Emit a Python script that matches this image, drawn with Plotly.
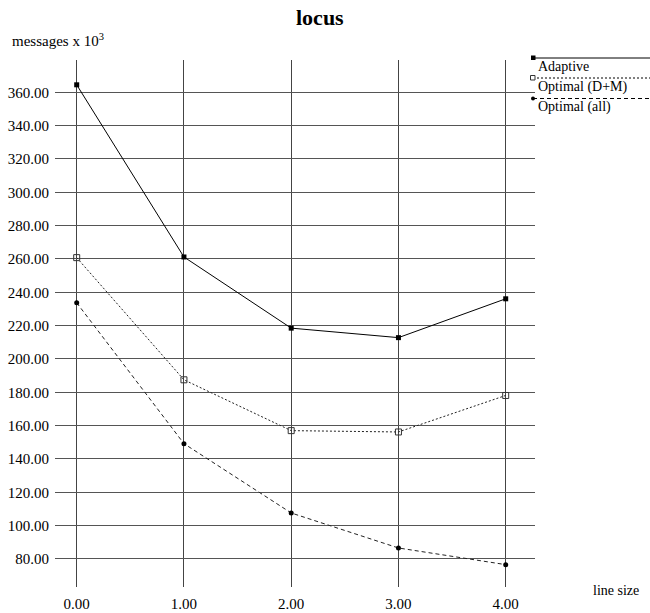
import plotly.graph_objects as go

# ---- data ----
line_size = [0, 1, 2, 3, 4]
adaptive = [364.5, 261.2, 218.5, 212.8, 236.1]
optimal_dm = [260.8, 187.5, 157.0, 156.2, 178.1]
optimal_all = [233.7, 149.2, 107.6, 86.6, 76.6]
series_names = ["Adaptive", "Optimal (D+M)", "Optimal (all)"]
y_ticks = list(range(80, 361, 20))
x_ticks = [0, 1, 2, 3, 4]

W, H = 650, 613
L, R, T, B = 55, 535, 60, 587
FONT = "Liberation Serif"


def px(x):
    return (x - L) / (R - L)


def py(y):
    return (B - y) / (B - T)


fig = go.Figure()

fig.add_trace(go.Scatter(x=line_size, y=adaptive, mode="lines+markers", name=series_names[0],
                         line=dict(color="black", width=1),
                         marker=dict(symbol="square", size=5, color="black")))
fig.add_trace(go.Scatter(x=line_size, y=optimal_dm, mode="lines+markers", name=series_names[1],
                         line=dict(color="#222", width=1, dash="2px,2px"),
                         marker=dict(symbol="square-open", size=6, color="#333",
                                     line=dict(width=1, color="#333"))))
fig.add_trace(go.Scatter(x=line_size, y=optimal_all, mode="lines+markers", name=series_names[2],
                         line=dict(color="#222", width=1, dash="4px,3px"),
                         marker=dict(symbol="circle", size=5, color="black")))

# x range / y range to match pixel layout
x0, x_scale = 76.7, 107.25
y360, y_scale = 92.3, 1.6667
xr = [(L - x0) / x_scale, (R - x0) / x_scale]
yr = [360 - (B - y360) / y_scale, 360 + (y360 - T) / y_scale]

fig.update_xaxes(range=xr, tickvals=x_ticks, ticktext=[f"{v:.2f}" for v in x_ticks],
                 showgrid=True, gridcolor="#444", gridwidth=1, zeroline=False, showline=False,
                 ticks="", ticklabelstandoff=6, automargin=False,
                 tickfont=dict(family=FONT, size=15, color="black"))
fig.update_yaxes(range=yr, tickvals=y_ticks, ticktext=[f"{v:.2f}" for v in y_ticks],
                 showgrid=True, gridcolor="#555", gridwidth=1, zeroline=False, showline=False,
                 ticks="", ticklabelstandoff=5, automargin=False,
                 tickfont=dict(family=FONT, size=15, color="black"))

# ---- custom legend ----
shapes = []
annotations = []
leg_y = [58, 78, 98.5]
dashes = ["solid", "2px,2px", "4px,3px"]
for i, name in enumerate(series_names):
    yy = leg_y[i]
    shapes.append(dict(type="line", xref="paper", yref="paper", x0=px(533), x1=px(650),
                       y0=py(yy), y1=py(yy), line=dict(color="black", width=1, dash=dashes[i])))
    annotations.append(dict(text=name, xref="paper", yref="paper", x=px(536), y=py(yy + 8.5),
                            xanchor="left", yanchor="middle", showarrow=False,
                            font=dict(family=FONT, size=14, color="black")))
# legend markers
shapes.append(dict(type="rect", xref="paper", yref="paper", x0=px(531), x1=px(535.5),
                   y0=py(60), y1=py(55.5), fillcolor="black", line=dict(width=0)))
shapes.append(dict(type="rect", xref="paper", yref="paper", x0=px(530.5), x1=px(535),
                   y0=py(80), y1=py(75.5), fillcolor="white", line=dict(width=1, color="#333")))
shapes.append(dict(type="circle", xref="paper", yref="paper", x0=px(531), x1=px(535),
                   y0=py(100.5), y1=py(96.5), fillcolor="black", line=dict(width=0)))

annotations.append(dict(text="<b>locus</b>", xref="paper", yref="paper", x=px(319.5), y=py(17),
                        xanchor="center", yanchor="middle", showarrow=False,
                        font=dict(family=FONT, size=22, color="black")))
annotations.append(dict(text="messages x 10<sup>3</sup>", xref="paper", yref="paper", x=px(10), y=py(40),
                        xanchor="left", yanchor="middle", showarrow=False,
                        font=dict(family=FONT, size=15, color="black")))
annotations.append(dict(text="line size", xref="paper", yref="paper", x=px(616), y=py(590),
                        xanchor="center", yanchor="middle", showarrow=False,
                        font=dict(family=FONT, size=14, color="black")))

fig.update_layout(width=W, height=H, margin=dict(l=L, r=W - R, t=T, b=H - B, pad=0),
                  paper_bgcolor="white", plot_bgcolor="white", showlegend=False,
                  shapes=shapes, annotations=annotations,
                  font=dict(family=FONT, size=14, color="black"))

fig.write_html("out.html")
